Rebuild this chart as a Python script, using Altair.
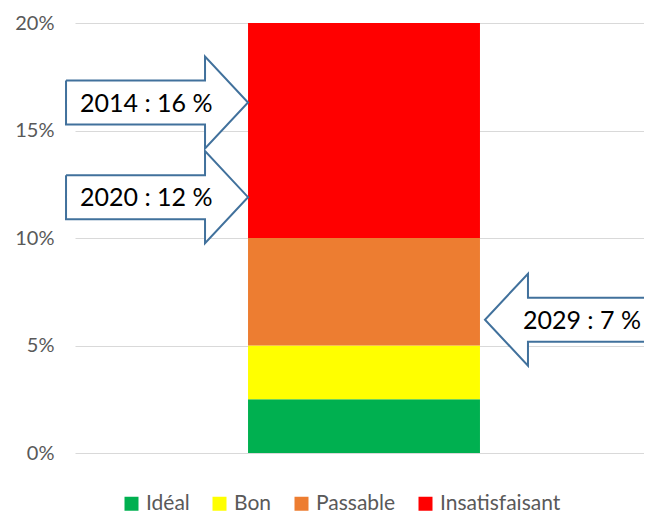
import altair as alt
import pandas as pd

# ---- data ----
categories = ["Idéal", "Bon", "Passable", "Insatisfaisant"]
segment_values = [2.5, 2.5, 5, 10]          # % band heights, stacked bottom -> top
colors = ["#00B050", "#FFFF00", "#ED7D31", "#FF0000"]
y_ticks = [0, 5, 10, 15, 20]

arrow_labels = ["2014 : 16 %", "2020 : 12 %", "2029 : 7 %"]
arrow_tip_pct = [16.3, 11.9, 6.2]           # where each arrow tip points on the % axis
arrow_dirs = ["right", "right", "left"]     # direction the arrow points

# ---- layout / style ----
W, H = 569, 430
PX_PER_PCT = H / 20
BAND_RANGE = 578
PAD_OUTER = 0.746
STEP = BAND_RANGE / (1 + 2 * PAD_OUTER)
BAR_LEFT = PAD_OUTER * STEP
BAR_RIGHT = BAR_LEFT + STEP
HEAD_LEN, TOTAL_LEN = 43, 182
HEAD_HALF, BODY_HALF = 46, 22
FONT = "Lato"

bar_df = pd.DataFrame({
    "g": ["bar"] * len(categories),
    "cat": categories,
    "v": segment_values,
    "k": list(range(len(categories))),
})

rows, trows = [], []
for i, (lab, tip, d) in enumerate(zip(arrow_labels, arrow_tip_pct, arrow_dirs)):
    if d == "right":
        s, tx = 1, BAR_LEFT
        text_x = tx - 168
    else:
        s, tx = -1, BAR_RIGHT + 5
        text_x = tx + 38
    hx = tx - s * HEAD_LEN
    bx = tx - s * TOTAL_LEN
    bh = BODY_HALF / PX_PER_PCT
    hh = HEAD_HALF / PX_PER_PCT
    pts = [(bx, tip + bh), (hx, tip + bh), (hx, tip + hh), (tx, tip),
           (hx, tip - hh), (hx, tip - bh), (bx, tip - bh), (bx, tip + bh)]
    for j, (x, y) in enumerate(pts):
        rows.append({"a": i, "o": j, "x": x, "y": y})
    trows.append({"a": i, "x": text_x, "y": tip, "label": lab})
arrow_df = pd.DataFrame(rows)
text_df = pd.DataFrame(trows)

yscale = alt.Scale(domain=[0, 20], nice=False, zero=True)
yaxis = alt.Axis(values=y_ticks, title=None, labelExpr="datum.value + '%'",
                 ticks=False, domain=False, labelPadding=21,
                 labelFont=FONT, labelFontSize=20, labelColor="#595959",
                 gridColor="#D9D9D9", gridWidth=1)

bars = alt.Chart(bar_df).mark_bar().encode(
    x=alt.X("g:N", axis=None,
            scale=alt.Scale(range=[0, BAND_RANGE], paddingInner=0, paddingOuter=PAD_OUTER)),
    y=alt.Y("v:Q", stack="zero", scale=yscale, axis=yaxis),
    color=alt.Color("cat:N", scale=alt.Scale(domain=categories, range=colors),
                    legend=alt.Legend(title=None, orient="none", direction="horizontal",
                                      columns=4, legendX=46, legendY=470,
                                      symbolType="square", symbolSize=196,
                                      symbolStrokeWidth=0, symbolOpacity=1,
                                      labelFont=FONT, labelFontSize=21,
                                      labelColor="#595959", labelOffset=4,
                                      columnPadding=19, padding=0)),
    order=alt.Order("k:Q", sort="ascending"),
)

xq = alt.X("x:Q", axis=None, scale=alt.Scale(domain=[0, W], nice=False, zero=False))

arrows = alt.Chart(arrow_df).mark_line(
    fill="white", stroke="#41719C", strokeWidth=2, strokeJoin="miter"
).encode(
    x=xq,
    y=alt.Y("y:Q", scale=yscale, axis=yaxis),
    detail="a:N",
    order="o:Q",
)

texts = alt.Chart(text_df).mark_text(
    align="left", baseline="middle", font=FONT, fontSize=25, color="black", dy=1
).encode(
    x=xq,
    y=alt.Y("y:Q", scale=yscale, axis=yaxis),
    text="label:N",
)

chart = alt.layer(bars, arrows, texts).resolve_scale(x="independent").properties(
    width=W, height=H,
    autosize=alt.AutoSizeParams(type="none"),
    padding={"left": 67, "top": 15, "right": 0, "bottom": 62},
    background="white",
).configure_view(stroke=None)

chart.save("out.html", embed_options={"renderer": "svg", "actions": False})
